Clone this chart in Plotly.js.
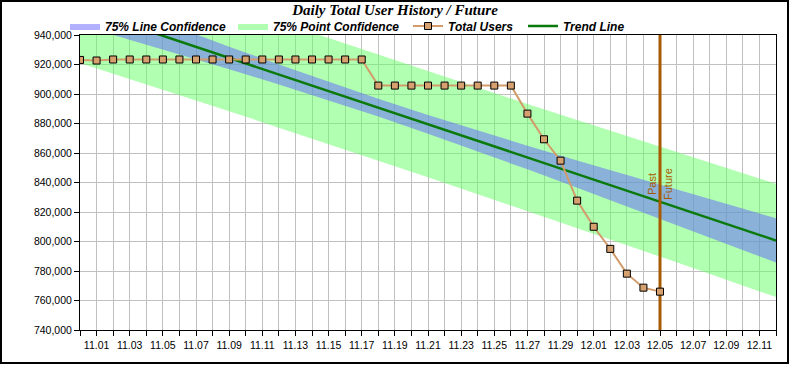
<!DOCTYPE html>
<html><head><meta charset="utf-8">
<script src="https://cdn.plot.ly/plotly-3.0.1.min.js"></script>
<style>html,body{margin:0;padding:0;background:#fff}#chart{width:790px;height:365px}</style>
</head><body><div id="chart"></div>
<script>
// ---- data ----
const userDates = [
  '2010-10-31','2010-11-01','2010-11-02','2010-11-03','2010-11-04','2010-11-05','2010-11-06','2010-11-07',
  '2010-11-08','2010-11-09','2010-11-10','2010-11-11','2010-11-12','2010-11-13','2010-11-14','2010-11-15',
  '2010-11-16','2010-11-17','2010-11-18','2010-11-19','2010-11-20','2010-11-21','2010-11-22','2010-11-23',
  '2010-11-24','2010-11-25','2010-11-26','2010-11-27','2010-11-28','2010-11-29','2010-11-30','2010-12-01',
  '2010-12-02','2010-12-03','2010-12-04','2010-12-05'];
const userValues = [
  923100, 922700, 923400, 923400, 923400, 923400, 923400, 923400,
  923400, 923400, 923400, 923400, 923400, 923400, 923400, 923400,
  923400, 923400, 905700, 905700, 905700, 905700, 905700, 905700,
  905700, 905700, 905700, 886700, 869300, 854800, 827700, 810000,
  795000, 778200, 768700, 766000];

const bandDates = ['2010-10-31','2010-11-03','2010-11-06','2010-11-09','2010-11-12','2010-11-15','2010-11-18',
  '2010-11-21','2010-11-24','2010-11-27','2010-11-30','2010-12-03','2010-12-06','2010-12-09','2010-12-12'];
const lineConfUpper = [969700, 957100, 944500, 932100, 920000, 908100, 896700, 885800, 875200, 865000, 854900, 845000, 835200, 825400, 815700];
const lineConfLower = [946700, 936900, 926900, 916800, 906500, 895800, 884700, 873100, 861200, 848900, 836500, 823900, 811200, 798500, 785700];
const pointConfUpper = [995400, 983700, 972200, 960600, 949200, 937900, 926600, 915400, 904300, 893200, 882300, 871400, 860500, 849800, 839100];
const pointConfLower = [921000, 910200, 899300, 888300, 877200, 866100, 854800, 843500, 832100, 820700, 809200, 797500, 785900, 774100, 762300];

const trendDates = ['2010-10-31','2010-12-12'];
const trendValues = [958200, 800700];

const nowDate = '2010-12-05';
const nowLineValues = [740000, 940000];

const xRange = ['2010-10-31','2010-12-12'];
const yRange = [740000, 940000];

// ---- styles ----
const green = 'rgba(100,255,100,0.5)';
const blue = 'rgba(100,100,255,0.5)';
const brown = '#a85a00';
const legFont = {family:'Arial, Liberation Sans, sans-serif', size:12, weight:'bold', style:'italic', color:'#000'};

const traces = [
  {x: bandDates, y: pointConfLower, mode:'lines', line:{width:0, color:'rgba(0,0,0,0)'}, showlegend:false, hoverinfo:'skip'},
  {x: bandDates, y: pointConfUpper, mode:'lines', fill:'tonexty', fillcolor: green, line:{width:0, color:'rgba(0,0,0,0)'},
   name:'75% Point Confidence', legend:'legend2', hoverinfo:'skip'},
  {x: bandDates, y: lineConfLower, mode:'lines', line:{width:0, color:'rgba(0,0,0,0)'}, showlegend:false, hoverinfo:'skip'},
  {x: bandDates, y: lineConfUpper, mode:'lines', fill:'tonexty', fillcolor: blue, line:{width:0, color:'rgba(0,0,0,0)'},
   name:'75% Line Confidence', legend:'legend', hoverinfo:'skip'},
  {x: trendDates, y: trendValues, mode:'lines', line:{color:'#0a7a0a', width:2.5}, name:'Trend Line', legend:'legend4'},
  {x: [nowDate, nowDate], y: nowLineValues, mode:'lines', line:{color: brown, width:3}, showlegend:false, hoverinfo:'skip'},
  {x: userDates, y: userValues, mode:'lines+markers', name:'Total Users', legend:'legend3',
   line:{color:'#d29c6a', width:2},
   marker:{symbol:'square', size:7, color:'#d6a16f', line:{color:'#000', width:1}}}
];

const px2x = X => (X - 80) / 696;
const px2y = Y => (330 - Y) / 295;
const legCommon = {orientation:'h', yanchor:'middle', xanchor:'left', y: px2y(26), bgcolor:'rgba(0,0,0,0)', borderwidth:0, font: legFont, itemwidth:30};

const axFont = {family:'Arial, Liberation Sans, sans-serif', size:10.5, color:'#000'};
const layout = {
  width:790, height:365,
  margin:{l:80, r:14, t:35, b:35, pad:0},
  paper_bgcolor:'#fff', plot_bgcolor:'#fff',
  font:{family:'Arial, Liberation Sans, sans-serif', color:'#000'},
  title:{text:'Daily Total User History / Future', x:0.5, xref:'container', y:1-10/365, yref:'container', yanchor:'middle',
         font:{family:'Liberation Serif, Times New Roman, serif', size:15, weight:'bold', style:'italic', color:'#000'}},
  xaxis:{type:'date', range:xRange, tickformat:'%m.%d', tick0:'2010-11-01', dtick:172800000,
         ticks:'outside', ticklen:5, tickcolor:'#000', showline:true, linecolor:'#000', linewidth:1, mirror:true,
         showgrid:true, gridcolor:'#c0c0c0', gridwidth:1, zeroline:false, tickfont:axFont,
         minor:{dtick:86400000, tick0:'2010-11-01', ticks:'outside', ticklen:5, tickcolor:'#000', showgrid:true, gridcolor:'#c0c0c0', gridwidth:1}},
  yaxis:{range:yRange, tick0:740000, dtick:20000, tickformat:',d',
         ticks:'outside', ticklen:5, tickcolor:'#000', showline:true, linecolor:'#000', linewidth:1, mirror:true,
         showgrid:true, gridcolor:'#c0c0c0', gridwidth:1, zeroline:false, tickfont:axFont},
  legend:  Object.assign({}, legCommon, {x: px2x(65)}),
  legend2: Object.assign({}, legCommon, {x: px2x(233)}),
  legend3: Object.assign({}, legCommon, {x: px2x(408)}),
  legend4: Object.assign({}, legCommon, {x: px2x(523)}),
  annotations:[
    {x: nowDate, y: 839000, xref:'x', yref:'y', text:'Past', textangle:-90, showarrow:false, xanchor:'right', yanchor:'middle',
     xshift:-1, borderpad:0, font:{family:'Arial, Liberation Sans, sans-serif', size:11, color: brown}},
    {x: nowDate, y: 839000, xref:'x', yref:'y', text:'Future', textangle:-90, showarrow:false, xanchor:'left', yanchor:'middle',
     xshift:1, borderpad:0, font:{family:'Arial, Liberation Sans, sans-serif', size:11, color: brown}}
  ],
  shapes:[
    {type:'rect', xref:'paper', yref:'paper', x0: px2x(1), x1: px2x(788), y0: px2y(1), y1: px2y(363),
     line:{color:'#000', width:2}, fillcolor:'rgba(0,0,0,0)', layer:'above'}
  ],
  showlegend:true
};

Plotly.newPlot('chart', traces, layout, {displayModeBar:false, staticPlot:true});
</script></body></html>
